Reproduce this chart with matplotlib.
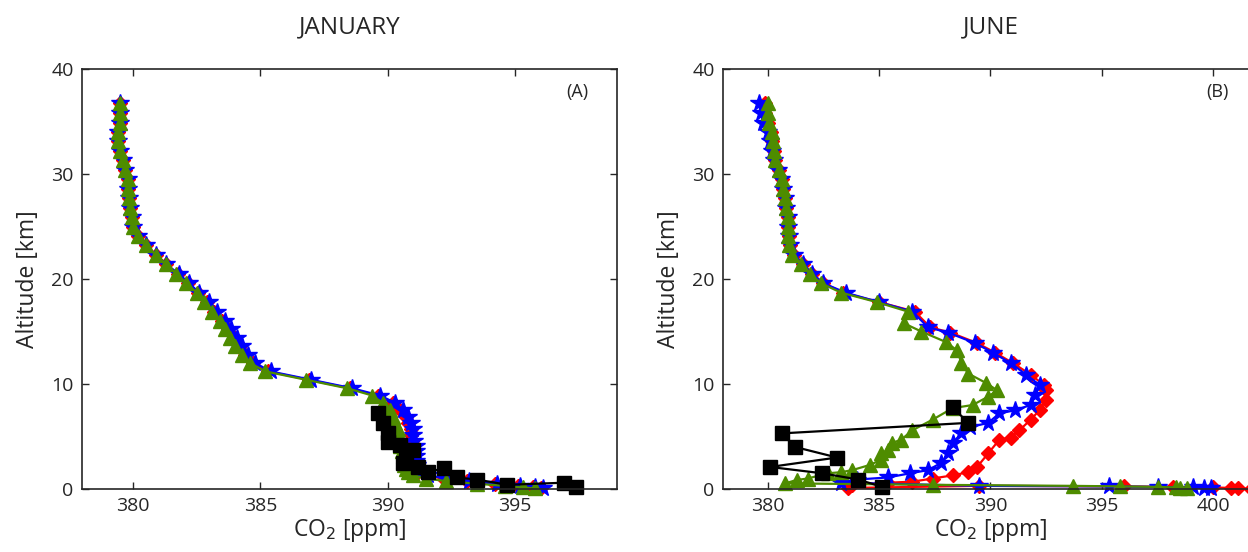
"""CO2 vertical profiles - January vs June."""
import matplotlib
matplotlib.use("Agg")
import matplotlib.pyplot as plt

plt.rcParams["font.family"] = ["Open Sans", "DejaVu Sans"]

# ---- January (A) ----
jan_alt = [36.8, 35.8, 34.9, 34.0, 33.1, 32.2, 31.3, 30.4, 29.5, 28.6, 27.7, 26.8,
           25.9, 25.0, 24.1, 23.2, 22.3, 21.4, 20.5, 19.6, 18.7, 17.8, 16.9, 16.0,
           15.2, 14.4, 13.6, 12.8, 12.0, 11.2, 10.4, 9.6, 8.9, 8.2, 7.5, 6.9, 6.3,
           5.7, 5.1, 4.6, 4.1, 3.6, 3.1, 2.7, 2.3, 1.9, 1.6, 1.3, 1.0, 0.75, 0.5,
           0.3, 0.15, 0.05]
jan_green = [379.5, 379.5, 379.5, 379.4, 379.4, 379.5, 379.6, 379.7, 379.8, 379.8,
             379.85, 379.9, 379.95, 380.0, 380.2, 380.5, 380.9, 381.3, 381.7, 382.1,
             382.5, 382.8, 383.1, 383.4, 383.6, 383.8, 384.0, 384.3, 384.6, 385.2,
             386.8, 388.4, 389.4, 389.8, 390.1, 390.2, 390.3, 390.4, 390.45, 390.5,
             390.5, 390.55, 390.6, 390.6, 390.65, 390.7, 390.8, 391.0, 391.5, 392.3,
             393.5, 394.6, 395.3, 395.8]
jan_blue = [379.5, 379.5, 379.5, 379.4, 379.4, 379.5, 379.6, 379.7, 379.8, 379.8,
            379.85, 379.9, 379.95, 380.0, 380.2, 380.5, 380.9, 381.3, 381.8, 382.2,
            382.6, 383.0, 383.3, 383.6, 383.85, 384.1, 384.3, 384.5, 384.8, 385.4,
            387.0, 388.6, 389.7, 390.3, 390.6, 390.8, 390.9, 391.0, 391.0, 391.05,
            391.1, 391.1, 391.1, 391.1, 391.15, 391.2, 391.3, 391.6, 392.3, 393.2,
            394.3, 395.2, 395.8, 396.1]
jan_red = [379.5, 379.5, 379.5, 379.4, 379.4, 379.5, 379.6, 379.7, 379.8, 379.8,
           379.85, 379.9, 379.95, 380.0, 380.2, 380.5, 380.9, 381.3, 381.75, 382.15,
           382.55, 382.9, 383.2, 383.5, 383.75, 384.0, 384.2, 384.4, 384.7, 385.3,
           386.9, 388.5, 389.6, 390.2, 390.5, 390.7, 390.8, 390.9, 390.9, 390.95,
           391.0, 391.0, 391.0, 391.0, 391.05, 391.1, 391.2, 391.5, 392.2, 393.1,
           394.2, 395.1, 395.7, 396.0]
jan_obs_alt = [7.2, 6.3, 5.3, 4.5, 4.2, 3.7, 2.8, 2.5, 2.1, 1.6, 2.0, 1.1, 0.9,
               0.4, 0.6, 0.2]
jan_obs = [389.6, 389.8, 390.0, 390.0, 390.5, 391.0, 390.7, 390.6, 391.2, 391.6,
           392.2, 392.7, 393.5, 394.7, 396.9, 397.4]

# ---- June (B) ----
jun_alt_up = [36.8, 35.8, 34.9, 34.0, 33.1, 32.2, 31.3, 30.4, 29.5, 28.6, 27.7,
              26.8, 25.9, 25.0, 24.1, 23.2, 22.3, 21.4, 20.5, 19.6, 18.7, 17.8,
              16.9]
jun_green_up = [380.0, 380.0, 380.05, 380.2, 380.25, 380.3, 380.35, 380.5, 380.65,
                380.7, 380.8, 380.85, 380.9, 380.9, 380.9, 380.95, 381.1, 381.5,
                381.9, 382.4, 383.3, 384.9, 386.3]
jun_blue_up = [379.6, 379.7, 379.8, 380.0, 380.1, 380.2, 380.3, 380.45, 380.6,
               380.7, 380.8, 380.85, 380.9, 380.9, 380.95, 381.0, 381.2, 381.6,
               382.0, 382.5, 383.5, 385.0, 386.5]
jun_red_up = [379.9, 379.9, 380.0, 380.15, 380.2, 380.3, 380.35, 380.5, 380.65,
              380.7, 380.8, 380.85, 380.9, 380.9, 380.95, 381.0, 381.2, 381.6,
              382.0, 382.5, 383.4, 385.0, 386.6]

jun_green_lo_alt = [15.8, 15.0, 14.0, 13.2, 12.0, 11.0, 10.1, 9.4, 8.8, 8.0, 7.7,
                    6.6, 5.6, 4.7, 4.4, 3.7, 3.4, 2.8, 2.3, 1.8, 1.6, 1.5, 1.0,
                    0.86, 0.54, 0.4, 0.3, 0.25, 0.2, 0.15, 0.1, 0.05]
jun_green_lo = [386.1, 386.9, 388.0, 388.5, 388.7, 389.0, 389.8, 390.3, 389.9,
                389.2, 388.3, 387.4, 386.5, 386.0, 385.6, 385.4, 385.1, 385.1,
                384.6, 383.8, 383.3, 382.7, 381.8, 381.3, 380.8, 387.4, 393.7,
                395.8, 397.5, 398.3, 398.5, 398.8]
jun_blue_lo_alt = [15.4, 14.9, 13.9, 13.0, 12.0, 10.9, 9.9, 9.0, 8.0, 7.5, 7.2,
                   6.3, 5.9, 5.3, 4.4, 3.4, 2.5, 1.8, 1.5, 1.1, 0.9, 0.6, 0.3,
                   0.25, 0.2, 0.15, 0.1, 0.05]
jun_blue_lo = [387.2, 388.1, 389.3, 390.1, 390.9, 391.6, 392.2, 392.0, 391.8,
               391.1, 390.4, 389.9, 389.1, 388.7, 388.3, 388.1, 387.8, 387.2,
               386.4, 385.4, 384.0, 383.3, 389.5, 395.3, 397.5, 399.1, 399.6,
               399.9]
jun_red_lo_alt = [15.4, 14.9, 13.9, 13.0, 12.0, 10.9, 9.9, 9.4, 8.5, 7.5, 6.6,
                  5.6, 4.9, 4.7, 3.4, 2.1, 1.6, 1.3, 1.0, 0.7, 0.6, 0.4, 0.1,
                  0.3, 0.25, 0.2, 0.15, 0.1, 0.05, 0.02]
jun_red_lo = [387.3, 388.2, 389.4, 390.2, 391.0, 391.8, 392.4, 392.5, 392.5,
              392.2, 391.8, 391.3, 390.9, 390.4, 389.9, 389.4, 389.0, 388.3,
              387.4, 386.5, 385.4, 383.8, 383.6, 389.5, 396.0, 398.2, 400.0,
              400.8, 401.1, 401.7]
jun_obs_alt = [7.8, 6.3, 5.3, 4.0, 3.0, 2.1, 1.5, 0.9, 0.2]
jun_obs = [388.3, 389.0, 380.65, 381.24, 383.12, 380.11, 382.45, 384.07, 385.15]

RED, BLUE, GREEN, BLACK = "#ff0000", "#0000ff", "#4e8c00", "#000000"
AX_COL = "#262626"

fig = plt.figure(figsize=(12.48, 5.52), dpi=100)
ax_a = fig.add_axes([0.0657, 0.1141, 0.4287, 0.7609])
ax_b = fig.add_axes([0.5793, 0.1141, 0.4287, 0.7609])


def profile(ax, x, y, color, marker, ms):
    ax.plot(x, y, color=color, lw=1.6, marker=marker, ms=ms,
            mec=color, mfc=color, clip_on=False)


profile(ax_a, jan_red, jan_alt, RED, "D", 7)
profile(ax_a, jan_blue, jan_alt, BLUE, "*", 13)
profile(ax_a, jan_green, jan_alt, GREEN, "^", 10)
profile(ax_a, jan_obs, jan_obs_alt, BLACK, "s", 10)

profile(ax_b, jun_red_up + jun_red_lo, jun_alt_up + jun_red_lo_alt, RED, "D", 7)
profile(ax_b, jun_blue_up + jun_blue_lo, jun_alt_up + jun_blue_lo_alt, BLUE, "*", 13)
profile(ax_b, jun_green_up + jun_green_lo, jun_alt_up + jun_green_lo_alt, GREEN, "^", 10)
profile(ax_b, jun_obs, jun_obs_alt, BLACK, "s", 10)

for ax, title, tag, xl in [(ax_a, "JANUARY", "(A)", (378, 399)),
                           (ax_b, "JUNE", "(B)", (378, 402))]:
    ax.set_xlim(*xl)
    ax.set_ylim(0, 40)
    ax.set_xticks(range(380, int(xl[1]) + 1, 5))
    ax.set_yticks([0, 10, 20, 30, 40])
    ax.tick_params(direction="in", top=True, right=True, length=5, width=1,
                   labelsize=14, colors=AX_COL, pad=6)
    for sp in ax.spines.values():
        sp.set_color(AX_COL)
        sp.set_linewidth(1.2)
    ax.set_xlabel("CO$_2$ [ppm]", fontsize=16.5, color=AX_COL, labelpad=1)
    ax.set_ylabel("Altitude [km]", fontsize=16.5, color=AX_COL, labelpad=8)
    ax.set_title(title, fontsize=17.5, color=AX_COL, pad=26)
    ax.text(0.925, 0.945, tag, transform=ax.transAxes, fontsize=13,
            color=AX_COL, ha="center", va="center")

fig.savefig("out.png", dpi=100)
